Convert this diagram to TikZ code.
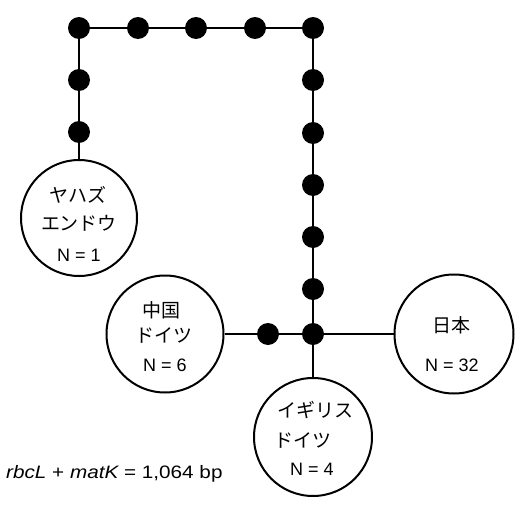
\documentclass[tikz,border=0pt]{standalone}
\usepackage{fontspec}
\setmainfont{Liberation Sans}
\newfontfamily\cjk{Noto Sans CJK JP}
\begin{document}
\begin{tikzpicture}[x=1pt,y=-1pt,
  dot/.style={circle,fill=black,inner sep=0pt,minimum size=22pt},
  pop/.style={circle,draw=black,line width=2pt,inner sep=0pt,minimum size=#1},
  pop/.default=117pt,
  edge/.style={line width=2pt},
  jp/.style={inner sep=0pt,font=\cjk\fontsize{19}{21}\selectfont},
  lab/.style={inner sep=0pt,font=\fontsize{18}{20}\selectfont}]
\useasboundingbox (0,0) rectangle (517,506);
% haplotype circles
\node[pop=116pt] (yah) at (79,218) {};
\node[pop] (chn) at (165,334) {};
\node[pop=119pt] (jpn) at (454,334) {};
\node[pop=118pt] (eng) at (313,437) {};
% median / missing dots
\node[dot] (d1) at (79,28) {};
\node[dot] (d2) at (138,28) {};
\node[dot] (d3) at (196,28) {};
\node[dot] (d4) at (255,28) {};
\node[dot] (d5) at (313,28) {};
\node[dot] (l1) at (79,80) {};
\node[dot] (l2) at (79,132) {};
\node[dot] (r1) at (313,80) {};
\node[dot] (r2) at (313,133) {};
\node[dot] (r3) at (313,185) {};
\node[dot] (r4) at (313,237) {};
\node[dot] (r5) at (313,289) {};
\node[dot] (j) at (313,334) {};
\node[dot] (m) at (268,334) {};
% connectors
\draw[edge] (d1) -- (d2) -- (d3) -- (d4) -- (d5);
\draw[edge] (d1) -- (l1) -- (l2) -- (yah);
\draw[edge] (d5) -- (r1) -- (r2) -- (r3) -- (r4) -- (r5) -- (j);
\draw[edge] (chn) -- (m) -- (j) -- (jpn);
\draw[edge] (j) -- (eng);
% texts
\node[jp] (t1) at (78,195) {ヤハズ};
\node[jp] (t2) at (79,223) {エンドウ};
\node[lab] (t3) at (79,255) {N = 1};
\node[jp] (t4) at (161,310) {中国};
\node[jp] (t5) at (164,335) {ドイツ};
\node[lab] (t6) at (165,365) {N = 6};
\node[jp] (t7) at (451,325) {日本};
\node[lab] (t8) at (452,365) {N = 32};
\node[jp] (t9) at (315,410) {イギリス};
\node[jp] (t10) at (303,440) {ドイツ};
\node[lab] (t11) at (312,469) {N = 4};
\node[lab,anchor=base west] (cap) at (6,478) {\scalebox{1.15}[1]{\itshape rbcL\upshape{} + \itshape matK\upshape{} = 1,064 bp}};
\end{tikzpicture}
\end{document}
